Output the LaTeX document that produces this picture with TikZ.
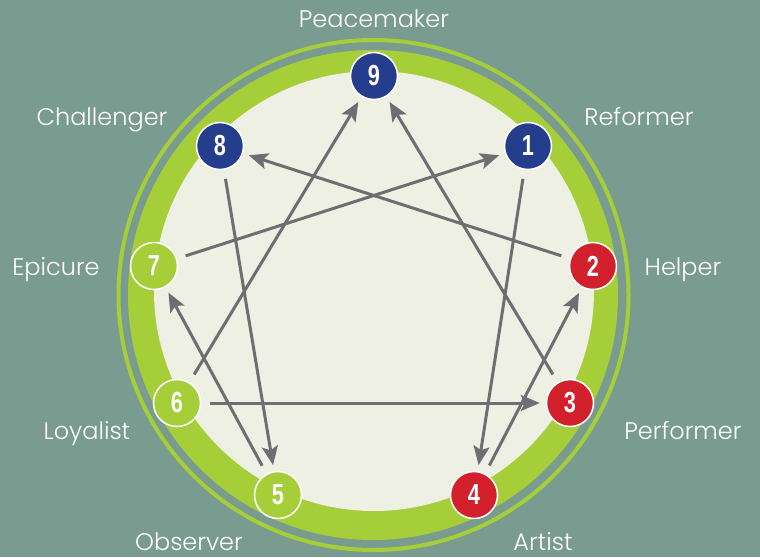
\documentclass[tikz,border=0pt]{standalone}
\usepackage{fontspec}
\usepackage{graphicx}
\setmainfont{Poppins}[UprightFont=* Light]
\newfontfamily\numfont{Liberation Sans}
\usetikzlibrary{arrows.meta}
\definecolor{bgc}{RGB}{122,155,144}
\definecolor{ringc}{RGB}{166,206,57}
\definecolor{innerc}{RGB}{238,240,228}
\definecolor{bluec}{RGB}{37,61,141}
\definecolor{redc}{RGB}{210,33,45}
\definecolor{greenc}{RGB}{166,206,57}
\definecolor{arrowc}{RGB}{109,110,114}
\newcommand\dg[1]{\scalebox{0.75}[1]{#1}}
\begin{document}
\begin{tikzpicture}[x=1pt,y=-1pt,
  num/.style={circle, minimum size=47pt, inner sep=0pt, draw=white, line width=1.5pt, text=white,
    font=\numfont\bfseries\fontsize{29}{29}\selectfont},
  lbl/.style={text=white, anchor=base, inner sep=0pt, font=\fontsize{24}{24}\selectfont},
  conn/.style={draw=arrowc, line width=3pt, -{Stealth[length=19pt,width=16pt,inset=4pt]},
    shorten <=9pt, shorten >=6pt}]
\useasboundingbox (0,0) rectangle (760,557);
\fill[bgc] (0,0) rectangle (760,557);
\draw[ringc, line width=4pt] (373.5,295) circle[radius=255];
\fill[ringc] (373,295) circle[radius=245];
\fill[innerc] (374,291) circle[radius=220];
% nodes
\node[num, fill=bluec] (n9) at (374,76) {\dg{9}};
\node[num, fill=bluec] (n1) at (528,146) {\dg{1}};
\node[num, fill=redc] (n2) at (593,266) {\dg{2}};
\node[num, fill=redc] (n3) at (570,403) {\dg{3}};
\node[num, fill=redc] (n4) at (474,495) {\dg{4}};
\node[num, fill=greenc] (n5) at (278,495) {\dg{5}};
\node[num, fill=greenc] (n6) at (177,403) {\dg{6}};
\node[num, fill=greenc] (n7) at (154,266) {\dg{7}};
\node[num, fill=bluec] (n8) at (220,146) {\dg{8}};
% labels
\node[lbl] (l9) at (374,27) {Peacemaker};
\node[lbl] (l8) at (102,125) {Challenger};
\node[lbl] (l1) at (639,125) {Reformer};
\node[lbl] (l7) at (56,275) {Epicure};
\node[lbl] (l2) at (683,275) {Helper};
\node[lbl] (l6) at (87,439) {Loyalist};
\node[lbl] (l3) at (683,439) {Performer};
\node[lbl] (l5) at (189,550) {Observer};
\node[lbl] (l4) at (543,550) {Artist};
% connectors
\draw[conn] (n7) -- (n1);
\draw[conn] (n1) -- (n4);
\draw[conn] (n4) -- (n2);
\draw[conn] (n2) -- (n8);
\draw[conn] (n8) -- (n5);
\draw[conn] (n5) -- (n7);
\draw[conn] (n6) -- (n9);
\draw[conn] (n3) -- (n9);
\draw[conn] (n6) -- (n3);
\end{tikzpicture}
\end{document}
